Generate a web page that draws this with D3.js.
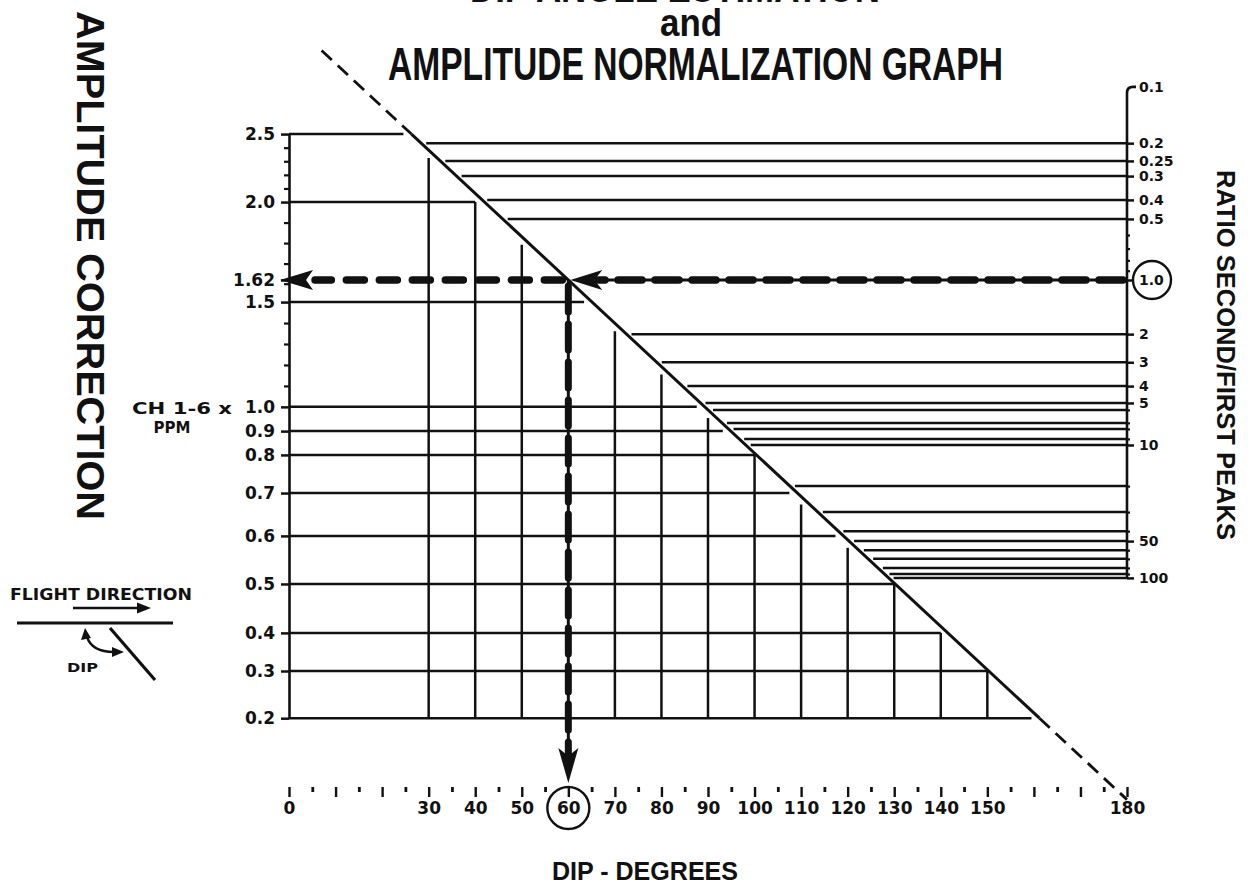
<!DOCTYPE html>
<html><head><meta charset="utf-8">
<script src="https://cdn.jsdelivr.net/npm/d3@7"></script>
<style>
body{margin:0;background:#fff}
svg{display:block}
text{font-family:"Liberation Sans",Arial,sans-serif;font-weight:bold;fill:#111}
.wide{font-family:"DejaVu Sans",sans-serif}
</style>
</head><body>
<svg id="c" width="1248" height="890"></svg>
<script>
// ---------------- data ----------------
const dipTicks = d3.range(0, 181, 5);
const dipMajor = d3.range(0, 181, 10);
const dipLabels = [0, 30, 40, 50, 60, 70, 80, 90, 100, 110, 120, 130, 140, 150, 180];
const dipVerticals = [30, 40, 50, 70, 80, 90, 100, 110, 120, 130, 140, 150];
const selectedDip = 60;

// amplitude correction values and the dip at which the diagonal reaches them
const ampValues   = [2.5, 2.0, 1.62, 1.5, 1.0, 0.9, 0.8, 0.7, 0.6, 0.5, 0.4, 0.3, 0.2];
const ampDipEquiv = [26.3, 42.0, 60.0, 65.1, 89.3, 94.9, 100.4, 109.2, 119.1, 130.2, 141.5, 150.3, 161.2];
const ampLabels   = ["2.5", "2.0", "1.62", "1.5", "1.0", "0.9", "0.8", "0.7", "0.6", "0.5", "0.4", "0.3", "0.2"];
const ampMinor    = [2.4, 2.3, 2.2, 2.1, 1.9, 1.8, 1.7, 1.6, 1.4, 1.3, 1.2, 1.1];
const selectedAmp = 1.62;

// ratio second/first peaks and the dip at which the diagonal reaches them
const ratioValues   = [0.1, 0.2, 0.25, 0.3, 0.4, 0.5, 1.0, 2, 3, 4, 5, 6, 7, 8, 9, 10, 20, 30, 40, 50, 60, 70, 80, 90, 100];
const ratioDipEquiv = [15.4, 28.4, 32.5, 36.0, 41.5, 45.9, 60.0, 72.5, 79.0, 84.5, 88.4, 90.0, 93.0, 94.4, 96.7, 98.1, 107.6, 113.6, 118.0, 120.3, 122.4, 124.4, 126.5, 127.9, 128.8];
const ratioLabelled = [0.1, 0.2, 0.25, 0.3, 0.4, 0.5, 1.0, 2, 3, 4, 5, 10, 50, 100];
const ratioLabelText = ["0.1", "0.2", "0.25", "0.3", "0.4", "0.5", "1.0", "2", "3", "4", "5", "10", "50", "100"];
const ratioMinor = [0.6, 0.7, 0.8, 0.9];
const selectedRatio = 1.0;

const diagDashStart = 7;   // dip where dashed extension starts
const diagDashEnd = 180;

// ---------------- scales ----------------
const svg = d3.select("#c");
const ink = "#111";
const x  = d3.scaleLinear().domain([0, 180]).range([289, 1127]);
const yd = d3.scaleLinear().domain([0, 180]).range([20.2, 799.6]);   // diagonal height per dip
const ampDip   = d3.scaleLinear().domain(ampValues).range(ampDipEquiv);
const ratioDip = d3.scaleLog().domain(ratioValues).range(ratioDipEquiv);
const yAmp   = d3.scaleLinear().domain(ampValues).range(ampDipEquiv.map(yd));
const yRatio = d3.scaleLog().domain(ratioValues).range(ratioDipEquiv.map(yd));

const g = svg.append("g");
const line = (x1, y1, x2, y2, w) => g.append("line").attr("x1", x1).attr("y1", y1).attr("x2", x2).attr("y2", y2)
  .attr("stroke", ink).attr("stroke-width", w || 2.5);

// ---------------- staircase grid ----------------
const gap = 8;
const gridAmp = ampValues.filter(v => v !== selectedAmp);
gridAmp.forEach(v => {
  let xe = x(ampDip(v)) - gap;
  const near = dipVerticals.find(d => Math.abs(x(d) - xe) < 8);
  if (near !== undefined) xe = x(near);
  line(x(0), yAmp(v), xe, yAmp(v));
});
dipVerticals.forEach(d => {
  let yt = yd(d) + gap;
  const near = gridAmp.find(v => Math.abs(yAmp(v) - yt) < 8);
  if (near !== undefined) yt = yAmp(near);
  line(x(d), yAmp(0.2), x(d), yt);
});

// right-hand ratio lines
ratioValues.filter(v => v !== 0.1 && v !== selectedRatio).forEach(v => {
  line(x(ratioDip(v)) + 5, yRatio(v), x(180), yRatio(v));
});

// ---------------- diagonal ----------------
const e0 = ampDip(2.5), e1 = ampDip(0.2);
line(x(e0), yd(e0), x(e1), yd(e1), 3);
line(x(diagDashStart), yd(diagDashStart), x(e0), yd(e0), 2.8).attr("stroke-dasharray", "14 8");
line(x(e1), yd(e1), x(diagDashEnd), yd(diagDashEnd), 2.8).attr("stroke-dasharray", "14 8");

// ---------------- axes ----------------
// left amplitude axis
const leftAx = g.append("g").attr("transform", `translate(${x(0)},0)`)
  .call(d3.axisLeft(yAmp).tickValues(ampValues).tickSize(8).tickSizeOuter(0).tickPadding(6)
    .tickFormat((d, i) => ampLabels[i]));
leftAx.select(".domain").attr("stroke", ink).attr("stroke-width", 2.6);
leftAx.selectAll(".tick line").attr("stroke", ink).attr("stroke-width", 2.5);
leftAx.selectAll(".tick text").attr("class", "wide").style("font-size", "17px").attr("fill", ink);
const leftMinor = g.append("g").attr("transform", `translate(${x(0)},0)`)
  .call(d3.axisLeft(yAmp).tickValues(ampMinor).tickSize(5).tickSizeOuter(0).tickFormat(""));
leftMinor.select(".domain").remove();
leftMinor.selectAll(".tick line").attr("stroke", ink).attr("stroke-width", 2.2);

// right ratio axis
const xr = x(180);
g.append("path").attr("d", `M${xr},${yRatio(100)}V${yRatio(0.1) + 6}Q${xr},${yRatio(0.1)} ${xr + 6},${yRatio(0.1)}H${xr + 9}`)
  .attr("fill", "none").attr("stroke", ink).attr("stroke-width", 2.6);
const rightAx = g.append("g").attr("transform", `translate(${xr},0)`)
  .call(d3.axisRight(yRatio).tickValues(ratioLabelled).tickSize(7).tickSizeOuter(0).tickPadding(5)
    .tickFormat((d, i) => ratioLabelText[i]));
rightAx.select(".domain").remove();
rightAx.selectAll(".tick line").attr("stroke", ink).attr("stroke-width", 2.5);
rightAx.selectAll(".tick").filter(d => d === 0.1).select("line").remove();
rightAx.selectAll(".tick text").attr("class", "wide").style("font-size", "14px").attr("fill", ink)
  .attr("x", 12);
const rightMinor = g.append("g").attr("transform", `translate(${xr},0)`)
  .call(d3.axisRight(yRatio).tickValues(ratioMinor.concat(ratioValues.filter(v => !ratioLabelled.includes(v))))
    .tickSize(3).tickSizeOuter(0).tickFormat(""));
rightMinor.select(".domain").remove();
rightMinor.selectAll(".tick line").attr("stroke", ink).attr("stroke-width", 2.2);
// circle round 1.0
g.append("circle").attr("cx", xr + 25).attr("cy", yRatio(selectedRatio)).attr("r", 19)
  .attr("fill", "none").attr("stroke", ink).attr("stroke-width", 2.4);

// bottom dip axis
const axY = 787;
const botMinor = g.append("g").attr("transform", `translate(0,${axY})`)
  .call(d3.axisBottom(x).tickValues(dipTicks.filter(d => d % 10 !== 0)).tickSize(5).tickSizeOuter(0).tickFormat(""));
botMinor.select(".domain").remove();
botMinor.selectAll(".tick line").attr("stroke", ink).attr("stroke-width", 2.8);
const botAx = g.append("g").attr("transform", `translate(0,${axY})`)
  .call(d3.axisBottom(x).tickValues(dipMajor).tickSize(10).tickSizeOuter(0).tickPadding(5)
    .tickFormat(d => dipLabels.includes(d) ? String(d) : ""));
botAx.select(".domain").remove();
botAx.selectAll(".tick line").attr("stroke", ink).attr("stroke-width", 2.4);
botAx.selectAll(".tick text").attr("class", "wide").style("font-size", "17px").attr("fill", ink);
g.append("circle").attr("cx", x(selectedDip)).attr("cy", 808).attr("r", 21)
  .attr("fill", "none").attr("stroke", ink).attr("stroke-width", 2.4);

// ---------------- dashed reading arrows ----------------
const ySel = yAmp(selectedAmp);
const xSel = x(selectedDip);
// from ratio axis to diagonal
line(xr, ySel, xSel + 26, ySel, 3);
line(xr - 4, ySel, xSel + 30, ySel, 7.5).attr("stroke-dasharray", "24 13").attr("stroke-linecap", "round");
g.append("path").attr("d", `M${xSel + 2},${ySel}L${xSel + 34},${ySel - 10}L${xSel + 26},${ySel}L${xSel + 34},${ySel + 10}Z`).attr("fill", ink);
// from diagonal to amplitude axis
line(xSel - 6, ySel, x(0) + 26, ySel, 7.5).attr("stroke-dasharray", "18 15").attr("stroke-linecap", "round");
g.append("path").attr("d", `M${x(0) - 9},${ySel}L${x(0) + 24},${ySel - 10}L${x(0) + 17},${ySel}L${x(0) + 24},${ySel + 10}Z`).attr("fill", ink);
// from diagonal down to dip axis
line(xSel, ySel, xSel, 760, 3);
line(xSel, ySel + 6, xSel, 758, 7).attr("stroke-dasharray", "26 12").attr("stroke-linecap", "round");
g.append("path").attr("d", `M${xSel},783L${xSel - 10},748L${xSel},756L${xSel + 10},748Z`).attr("fill", ink);

// ---------------- texts ----------------
const T = (txt, xx, yy, size, opts) => {
  const t = svg.append("text").attr("x", xx).attr("y", yy).style("font-size", size + "px").text(txt);
  if (opts && opts.anchor) t.attr("text-anchor", opts.anchor);
  if (opts && opts.len) t.attr("textLength", opts.len).attr("lengthAdjust", "spacingAndGlyphs");
  if (opts && opts.rot) t.attr("transform", `rotate(90,${xx},${yy})`);
  if (opts && opts.cls) t.attr("class", opts.cls);
  return t;
};
T("DIP ANGLE ESTIMATION", 470, 2, 46, {len: 410});
T("and", 660, 36, 38, {len: 62});
T("AMPLITUDE NORMALIZATION GRAPH", 388, 80, 46, {len: 615});
T("AMPLITUDE CORRECTION", 77, 11, 39, {len: 509, rot: true});
T("RATIO SECOND/FIRST PEAKS", 1217, 170, 25, {len: 370, rot: true});
T("CH 1-6 x", 232, 414, 16, {anchor: "end", cls: "wide", len: 100});
T("PPM", 172, 433, 15, {anchor: "middle", cls: "wide"});
T("DIP - DEGREES", 645, 880, 25, {anchor: "middle", len: 186});

// flight direction sketch
T("FLIGHT DIRECTION", 10, 600, 15, {len: 182, cls: "wide"});
svg.append("line").attr("x1", 73).attr("y1", 608).attr("x2", 142).attr("y2", 608).attr("stroke", ink).attr("stroke-width", 2.4);
svg.append("path").attr("d", "M151,608L137,602.5L137,613.5Z").attr("fill", ink);
svg.append("line").attr("x1", 17).attr("y1", 623).attr("x2", 173).attr("y2", 623).attr("stroke", ink).attr("stroke-width", 2.8);
svg.append("path").attr("d", "M87,637Q92,652 114,652").attr("fill", "none").attr("stroke", ink).attr("stroke-width", 2.4);
svg.append("path").attr("d", "M85,628L81,640L91,638Z").attr("fill", ink);
svg.append("path").attr("d", "M124,652L112,647L112,657Z").attr("fill", ink);
svg.append("line").attr("x1", 110).attr("y1", 628).attr("x2", 155).attr("y2", 680).attr("stroke", ink).attr("stroke-width", 3.2);
T("DIP", 67, 672, 13, {len: 31, cls: "wide"});
</script>
</body></html>
